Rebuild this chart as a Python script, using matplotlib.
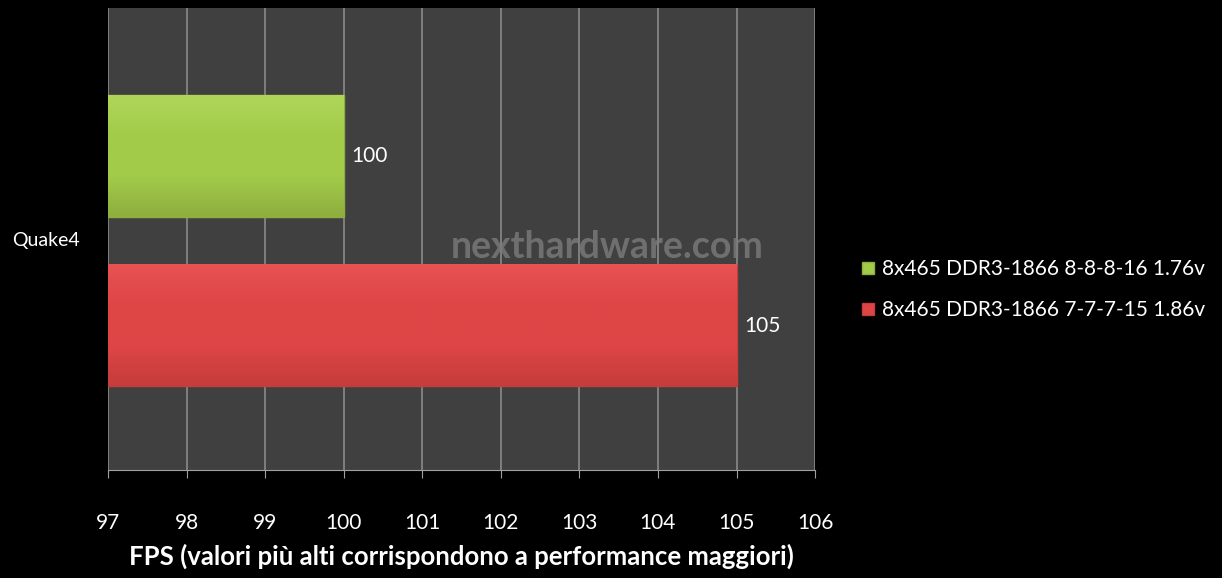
import numpy as np
import matplotlib.pyplot as plt
from matplotlib.colors import LinearSegmentedColormap

category = 'Quake4'
series = ['8x465 DDR3-1866 8-8-8-16 1.76v', '8x465 DDR3-1866 7-7-7-15 1.86v']
values = [100, 105]
colors = ['#a2cb4a', '#de4646']
dark = ['#8eae3e', '#c63c3c']
light = ['#b0d65a', '#e85252']
xticks = [97, 98, 99, 100, 101, 102, 103, 104, 105, 106]
xlabel = 'FPS (valori più alti corrispondono a performance maggiori)'

plt.rcParams['font.family'] = ['Lato', 'DejaVu Sans']

fig = plt.figure(figsize=(12.22, 5.78), dpi=100, facecolor='black')
ax = fig.add_axes([0.0884, 0.1869, 0.667 - 0.0884, 0.986 - 0.1869])
ax.set_facecolor('#404040')

offsets = [0.36, -0.375]
height = 0.525
left = xticks[0]
for i in range(len(values)):
	y = offsets[i]
	ax.barh(y, values[i] - left, left=left, height=height, color=colors[i],
		edgecolor=dark[i], linewidth=1.0, zorder=3, label=series[i])
	cmap = LinearSegmentedColormap.from_list('g', [dark[i], colors[i], colors[i], light[i]])
	grad = np.linspace(0, 1, 100).reshape(-1, 1)
	ax.imshow(grad, cmap=cmap, aspect='auto', origin='lower', zorder=3.5,
		extent=[left, values[i], y - height / 2, y + height / 2])
	ax.text(values[i] + 0.1, y, str(values[i]), color='white', fontsize=15,
		va='center', ha='left', zorder=5)

ax.set_xlim(xticks[0], xticks[-1])
ax.set_ylim(-1, 1)
ax.set_xticks(xticks)
ax.set_xticklabels([str(t) for t in xticks], color='white', fontsize=15)
ax.set_yticks([0])
ax.set_yticklabels([category], color='white', fontsize=14)
ax.tick_params(axis='y', length=0, pad=20)
ax.tick_params(axis='x', length=6, color='#a0a0a0', pad=25)
ax.grid(axis='x', color='#8a8a8a', linewidth=1.2, zorder=1)
ax.set_axisbelow(True)
for s in ['top', 'right', 'left']:
	ax.spines[s].set_visible(False)
ax.spines['bottom'].set_color('#a0a0a0')
ax.set_xlabel(xlabel, color='white', fontsize=18.5, fontweight='bold', labelpad=8)

ax.text(103.35, -0.035, 'nexthardware.com', color='#7c7c7c', alpha=0.8,
	fontsize=27, fontweight='bold', ha='center', va='center', zorder=6)

leg = ax.legend(loc='center left', bbox_to_anchor=(1.04, 0.39), frameon=False,
	fontsize=15, handlelength=0.55, handleheight=0.55, handletextpad=0.4,
	labelspacing=1.0, labelcolor='white')

fig.savefig('out.png', dpi=100, facecolor='black')
